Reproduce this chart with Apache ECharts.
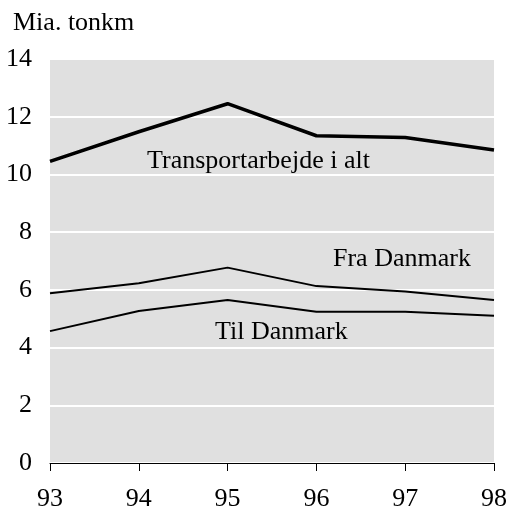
<!DOCTYPE html>
<html>
<head>
<meta charset="utf-8">
<script src="https://cdn.jsdelivr.net/npm/echarts@6/dist/echarts.min.js"></script>
<style>
  html, body { margin: 0; padding: 0; background: #fff; }
  #chart { width: 510px; height: 515px; }
</style>
</head>
<body>
<div id="chart"></div>
<script>
var years = ['93', '94', '95', '96', '97', '98'];
var totalWork = [10.45, 11.48, 12.45, 11.34, 11.28, 10.85];
var fromDenmark = [5.88, 6.23, 6.77, 6.13, 5.94, 5.65];
var toDenmark = [4.57, 5.27, 5.65, 5.24, 5.24, 5.10];
var yTicks = [0, 2, 4, 6, 8, 10, 12, 14];

var font = '"Liberation Serif", "Times New Roman", serif';
var fs = 26;

var chart = echarts.init(document.getElementById('chart'), null, { renderer: 'canvas' });

var option = {
    animation: false,
    backgroundColor: '#fff',
    grid: {
        left: 50,
        right: 14,
        top: 59,
        bottom: 52,
        show: true,
        backgroundColor: '#e0e0e0',
        borderWidth: 0
    },
    xAxis: {
        type: 'category',
        data: years,
        boundaryGap: false,
        axisLine: { show: true, lineStyle: { color: '#000', width: 1 } },
        axisTick: { show: true, inside: false, length: 8, lineStyle: { color: '#000' } },
        axisLabel: { color: '#000', fontFamily: font, fontSize: fs, margin: 23 },
        splitLine: { show: false }
    },
    yAxis: {
        type: 'value',
        min: yTicks[0],
        max: yTicks[yTicks.length - 1],
        interval: 2,
        axisLine: { show: false },
        axisTick: { show: false },
        axisLabel: { color: '#000', fontFamily: font, fontSize: fs, margin: 18 },
        splitLine: { show: true, lineStyle: { color: '#fff', width: 2 } }
    },
    graphic: [
        {
            type: 'text',
            style: { x: 80, y: -25, text: 'Udvikling', align: 'right', verticalAlign: 'top',
                font: 'bold ' + fs + 'px ' + font, fill: '#000' }
        },
        {
            type: 'text',
            style: { x: 13, y: 23, text: 'Mia. tonkm', verticalAlign: 'middle',
                font: fs + 'px ' + font, fill: '#000' }
        },
        {
            type: 'text',
            style: { x: 147, y: 161, text: 'Transportarbejde i alt', verticalAlign: 'middle',
                font: fs + 'px ' + font, fill: '#000' }
        },
        {
            type: 'text',
            style: { x: 333, y: 259, text: 'Fra Danmark', verticalAlign: 'middle',
                font: fs + 'px ' + font, fill: '#000' }
        },
        {
            type: 'text',
            style: { x: 215, y: 332, text: 'Til Danmark', verticalAlign: 'middle',
                font: fs + 'px ' + font, fill: '#000' }
        }
    ],
    series: [
        {
            name: 'Transportarbejde i alt',
            type: 'line',
            data: totalWork,
            symbol: 'none',
            lineStyle: { color: '#000', width: 3.5 },
            z: 3
        },
        {
            name: 'Fra Danmark',
            type: 'line',
            data: fromDenmark,
            symbol: 'none',
            lineStyle: { color: '#000', width: 2 }
        },
        {
            name: 'Til Danmark',
            type: 'line',
            data: toDenmark,
            symbol: 'none',
            lineStyle: { color: '#000', width: 2 }
        }
    ]
};

chart.setOption(option);
</script>
</body>
</html>
